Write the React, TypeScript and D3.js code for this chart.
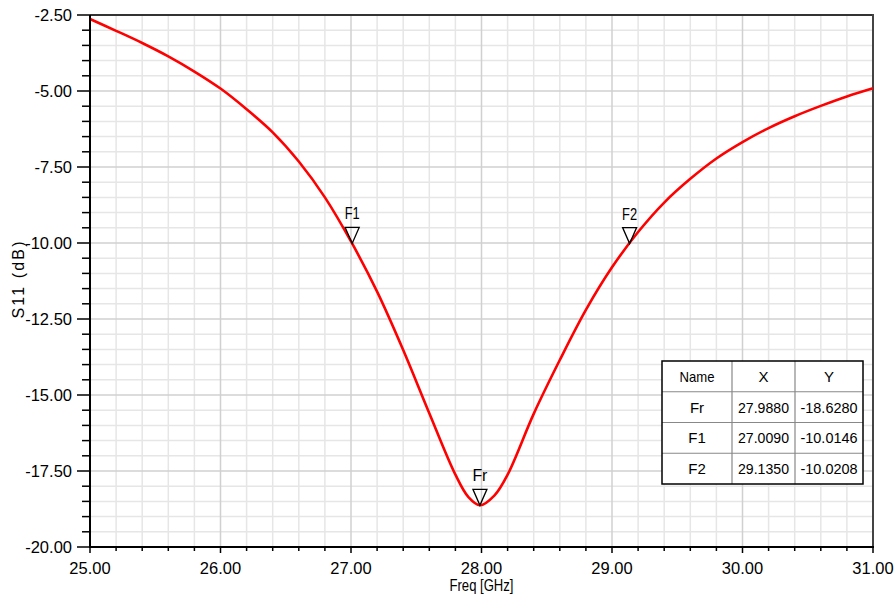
import React from "react";
import * as d3 from "d3";

const freqs = [25.0, 25.2, 25.4, 25.6, 25.8, 26.0, 26.2, 26.4, 26.6, 26.8, 27.0, 27.2, 27.4, 27.6, 27.8, 27.9, 27.988, 28.1, 28.2, 28.4, 28.6, 28.8, 29.0, 29.2, 29.4, 29.6, 29.8, 30.0, 30.2, 30.4, 30.6, 30.8, 31.0];
const s11 = [-2.63, -3.02, -3.42, -3.86, -4.36, -4.92, -5.6, -6.36, -7.32, -8.5, -9.95, -11.6, -13.52, -15.6, -17.62, -18.36, -18.628, -18.3, -17.62, -15.62, -13.85, -12.2, -10.8, -9.64, -8.67, -7.89, -7.22, -6.68, -6.22, -5.83, -5.49, -5.18, -4.91];

const markerNames = ["Fr", "F1", "F2"];
const markerX = [27.988, 27.009, 29.135];
const markerY = [-18.628, -10.0146, -10.0208];
const markerXText = ["27.9880", "27.0090", "29.1350"];
const markerYText = ["-18.6280", "-10.0146", "-10.0208"];

const xTicks = [25, 26, 27, 28, 29, 30, 31];
const yTicks = [-2.5, -5, -7.5, -10, -12.5, -15, -17.5, -20];
const tableHeaders = ["Name", "X", "Y"];

const W = 895;
const H = 599;
const L = 90, R = 873, T = 15, B = 547;
const FONT = "'Liberation Sans', Arial, sans-serif";

export default function App() {
  const x = d3.scaleLinear().domain([25, 31]).range([L, R]);
  const y = d3.scaleLinear().domain([-20, -2.5]).range([B, T]);

  const xMinor = d3.range(25, 31.0001, 0.2).map((v) => +v.toFixed(2));
  const yMinor = d3.range(-20, -2.4999, 0.5).map((v) => +v.toFixed(2));

  const line = d3
    .line<number>()
    .x((_, i) => x(freqs[i]))
    .y((d) => y(d))
    .curve(d3.curveCatmullRom.alpha(0.5));

  const isMajorX = (v: number) => Math.abs(v - Math.round(v)) < 1e-6;
  const isMajorY = (v: number) => Math.abs(v / 2.5 - Math.round(v / 2.5)) < 1e-6;

  // table geometry
  const tL = 662, tT = 361, tR = 863, tB = 484;
  const colX = [tL, 732, 795, tR];
  const rowH = (tB - tT) / 4;
  const rows = markerNames.map((n, i) => [n, markerXText[i], markerYText[i]]);

  return (
    <svg
      width={W}
      height={H}
      style={{ position: "fixed", left: 0, top: 0, background: "#fff" }}
      fontFamily={FONT}
    >
      <rect x={0} y={0} width={W} height={H} fill="#fff" />
      {/* grid */}
      {xMinor.filter((v) => !isMajorX(v)).map((v) => (
        <line key={"gx" + v} x1={x(v)} x2={x(v)} y1={T} y2={B} stroke="#e6e6e6" strokeWidth={1.5} />
      ))}
      {yMinor.filter((v) => !isMajorY(v)).map((v) => (
        <line key={"gy" + v} x1={L} x2={R} y1={y(v)} y2={y(v)} stroke="#e6e6e6" strokeWidth={1.5} />
      ))}
      {xTicks.map((v) => (
        <line key={"Gx" + v} x1={x(v)} x2={x(v)} y1={T} y2={B} stroke="#d0d0d0" strokeWidth={1.5} />
      ))}
      {yTicks.map((v) => (
        <line key={"Gy" + v} x1={L} x2={R} y1={y(v)} y2={y(v)} stroke="#d0d0d0" strokeWidth={1.5} />
      ))}

      {/* frame */}
      <line x1={L} x2={R} y1={T} y2={T} stroke="#333" strokeWidth={2} />
      <line x1={R} x2={R} y1={T - 1} y2={B} stroke="#444" strokeWidth={2} />

      {/* curve */}
      <path d={line(s11) || ""} fill="none" stroke="#ff0000" strokeWidth={2.6} strokeLinejoin="round" />

      {/* axes */}
      <line x1={L} x2={L} y1={T} y2={B + 1} stroke="#000" strokeWidth={2} />
      <line x1={L - 1} x2={R + 1} y1={B} y2={B} stroke="#000" strokeWidth={2} />
      {yMinor.map((v) => (
        <line key={"ty" + v} x1={isMajorY(v) ? L - 13 : L - 8} x2={L} y1={y(v)} y2={y(v)} stroke="#000" strokeWidth={1.5} />
      ))}
      {xMinor.map((v) => (
        <line key={"tx" + v} x1={x(v)} x2={x(v)} y1={B} y2={isMajorX(v) ? B + 6 : B + 4} stroke="#000" strokeWidth={1.5} />
      ))}
      {yTicks.map((v) => (
        <text key={"ly" + v} x={72} y={y(v)} dy="0.37em" textAnchor="end" fontSize={16.5} fill="#000">
          {v.toFixed(2)}
        </text>
      ))}
      {xTicks.map((v) => (
        <text key={"lx" + v} x={x(v)} y={574} textAnchor="middle" fontSize={16.5} fill="#000">
          {v.toFixed(2)}
        </text>
      ))}
      <text x={x(28)} y={591} textAnchor="middle" fontSize={16} fill="#000" textLength={64} lengthAdjust="spacingAndGlyphs">
        Freq [GHz]
      </text>
      <text
        transform={`translate(24,${280}) rotate(-90)`}
        textAnchor="middle"
        fontSize={16}
        fill="#000"
        textLength={77}
        lengthAdjust="spacing"
      >
        S11 (dB)
      </text>

      {/* markers */}
      {markerNames.map((n, i) => {
        const mx = x(markerX[i]);
        const my = y(markerY[i]);
        const pts = `${mx - 7},${my - 16} ${mx + 7},${my - 16} ${mx},${my}`;
        return (
          <g key={"m" + n}>
            <polygon points={pts} fill="none" stroke="#000" strokeWidth={1.3} />
            <text x={mx} y={my - 24} textAnchor="middle" fontSize={16} fill="#000" textLength={15} lengthAdjust="spacingAndGlyphs">
              {n}
            </text>
          </g>
        );
      })}

      {/* table */}
      <rect x={tL} y={tT} width={tR - tL} height={tB - tT} fill="#fff" />
      {[1, 2, 3].map((r) => (
        <line key={"tr" + r} x1={tL} x2={tR} y1={tT + r * rowH} y2={tT + r * rowH} stroke="#888" strokeWidth={1.2} />
      ))}
      {[1, 2].map((c) => (
        <line key={"tc" + c} x1={colX[c]} x2={colX[c]} y1={tT} y2={tB} stroke="#888" strokeWidth={1.2} />
      ))}
      <rect x={tL} y={tT} width={tR - tL} height={tB - tT} fill="none" stroke="#000" strokeWidth={1.5} />
      {tableHeaders.map((h, c) => (
        <text key={"th" + h} x={(colX[c] + colX[c + 1]) / 2} y={tT + rowH / 2} dy="0.37em" textAnchor="middle" fontSize={15} fill="#000" textLength={h === "Name" ? 35 : undefined} lengthAdjust="spacingAndGlyphs">
          {h}
        </text>
      ))}
      {rows.map((row, r) =>
        row.map((cell, c) => (
          <text
            key={"td" + r + c}
            x={(colX[c] + colX[c + 1]) / 2}
            y={tT + (r + 1.5) * rowH}
            dy="0.37em"
            textAnchor="middle"
            fontSize={15}
            fill="#000"
            textLength={c === 0 ? undefined : c === 1 ? 51 : 57}
            lengthAdjust="spacingAndGlyphs"
          >
            {cell}
          </text>
        ))
      )}
    </svg>
  );
}
